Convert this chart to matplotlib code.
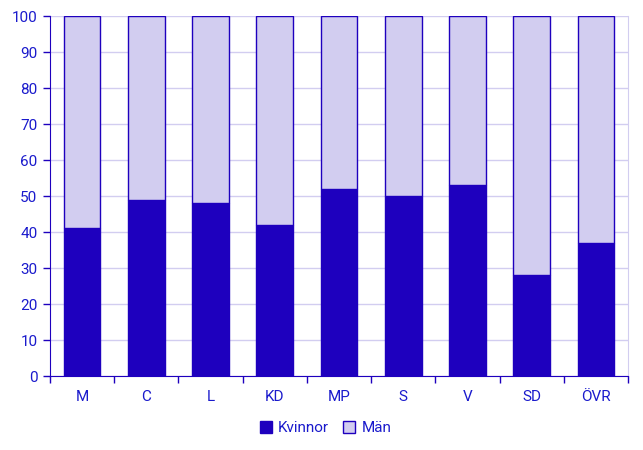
import numpy as np
import matplotlib.pyplot as plt

plt.rcParams['font.family'] = ['Roboto', 'DejaVu Sans']

# data
partier = ['M', 'C', 'L', 'KD', 'MP', 'S', 'V', 'SD', 'ÖVR']
kvinnor = [41, 49, 48, 42, 52, 50, 53, 28, 37]
man = [59, 51, 52, 58, 48, 50, 47, 72, 63]

dark = '#1E00BE'
light = '#D2CDF0'
text_col = '#1A1ACC'

fig = plt.figure(figsize=(6.43, 4.5), dpi=100)
ax = fig.add_axes([50 / 643, 74 / 450, 578 / 643, 360 / 450])

x = np.arange(len(partier))
w = 0.57
ax.bar(x, kvinnor, w, color=dark, edgecolor=dark, linewidth=1, label='Kvinnor', zorder=3)
ax.bar(x, man, w, bottom=kvinnor, color=light, edgecolor=dark, linewidth=1, label='Män', zorder=3)

ax.set_xlim(-0.5, len(partier) - 0.5)
ax.set_ylim(0, 100)
ax.set_yticks(range(0, 101, 10))
ax.yaxis.grid(True, color='#D2CDF0', linewidth=1, zorder=0)

# tick marks between categories, labels under bars
ax.set_xticks(np.arange(-0.5, len(partier), 1))
ax.set_xticklabels([])
ax.set_xticks(x, minor=True)
ax.set_xticklabels(partier, minor=True)
ax.tick_params(axis='x', which='major', length=5, color=dark, width=1)
ax.tick_params(axis='x', which='minor', length=0, pad=10, labelcolor=text_col, labelsize=11)
ax.tick_params(axis='y', length=5, color=dark, width=1, labelcolor=text_col, labelsize=11, pad=4)

ax.spines['top'].set_visible(False)
ax.spines['right'].set_color(light)
ax.spines['left'].set_color(dark)
ax.spines['bottom'].set_color(dark)

leg = fig.legend(loc='center', bbox_to_anchor=(0.5 + 4 / 643, 1 - 428 / 450), ncol=2, frameon=False,
                 handlelength=0.8, handleheight=0.8, handletextpad=0.4, columnspacing=0.9,
                 fontsize=11)
for t in leg.get_texts():
    t.set_color(text_col)

fig.savefig('out.png', dpi=100)
